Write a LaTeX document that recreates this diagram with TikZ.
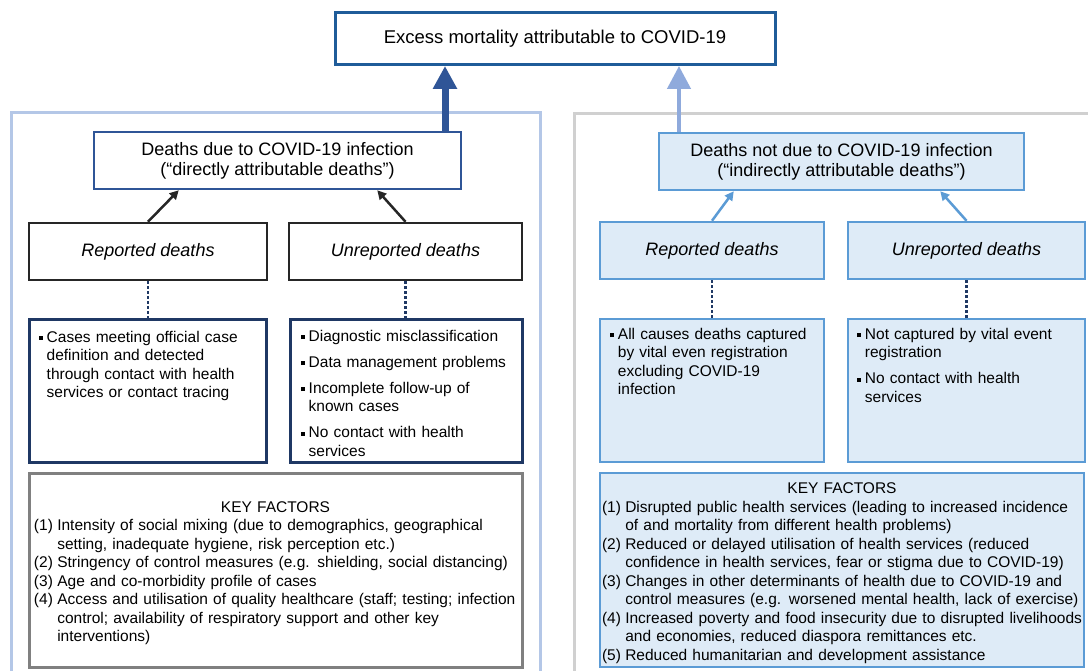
\documentclass[tikz,border=0pt]{standalone}
\usepackage{fontspec}
\setmainfont{Liberation Sans}
\usetikzlibrary{arrows.meta,calc}
\definecolor{topblue}{HTML}{1F5C99}
\definecolor{darkarrow}{HTML}{2F5597}
\definecolor{lightarrow}{HTML}{8FAADC}
\definecolor{lpanelc}{HTML}{B4C7E7}
\definecolor{rpanelc}{HTML}{D0D0D0}
\definecolor{navy}{HTML}{1F3864}
\definecolor{lfill}{HTML}{DEEBF7}
\definecolor{midblue}{HTML}{5B9BD5}
\definecolor{keygray}{HTML}{808080}
\definecolor{boxblack}{HTML}{262626}
\newcommand{\hdfont}{\fontsize{18}{20}\selectfont}
\newcommand{\bdfont}{\fontsize{15.5}{18.5}\selectfont}
\newcommand{\bul}[1]{\par\noindent\hangindent=8pt\hangafter=1\makebox[8pt][l]{\rule[2.2pt]{3.8pt}{3.8pt}}#1\par}
\newcommand{\kit}[2]{\par\noindent\hangindent=23.3pt\hangafter=1\makebox[23.3pt][l]{(#1)}#2\par}
\tikzset{
  base/.style={rectangle, inner sep=0pt, align=center},
  topbox/.style={base, draw=topblue, line width=3pt, fill=white, font=\fontsize{18.5}{20}\selectfont},
  dirbox/.style={base, draw=darkarrow, line width=2.5pt, fill=white, font=\hdfont},
  indbox/.style={base, draw=midblue, line width=2.5pt, fill=lfill, font=\hdfont},
  blkbox/.style={base, draw=boxblack, line width=2.5pt, fill=white, font=\hdfont\itshape},
  navybox/.style={base, draw=navy, line width=3pt, fill=white},
  graybox/.style={base, draw=keygray, line width=3pt, fill=white, font=\bdfont, align=left},
  keyblue/.style={base, draw=midblue, line width=2.5pt, fill=lfill, font=\bdfont, align=left},
  btext/.style={anchor=north west, inner sep=0pt, font=\bdfont, align=left, text width=225pt},
  bigdark/.style={draw=darkarrow, line width=7pt, -{Triangle[length=23pt,width=23pt]}},
  biglight/.style={draw=lightarrow, line width=4.5pt, -{Triangle[length=23pt,width=23pt]}},
  blkarrow/.style={draw=boxblack, line width=2.5pt, -{Triangle[length=9pt,width=9pt]}},
  bluearrow/.style={draw=midblue, line width=2.5pt, -{Triangle[length=9pt,width=9pt]}},
  dotline/.style={draw=navy, line width=2.5pt, dash pattern=on 2.5pt off 2.5pt},
}
\begin{document}
\begin{tikzpicture}[x=1pt,y=-1pt]
\useasboundingbox (0,0) rectangle (1088,671);
\clip (0,0) rectangle (1088,671);
\fill[white] (0,0) rectangle (1088,671);
% panels
\draw[draw=lpanelc, line width=3pt] (11,113) rectangle (540,700);
\draw[draw=rpanelc, line width=3pt] (574,114) rectangle (1110,700);
% top box
\node[topbox, minimum width=440pt, minimum height=52pt] (top) at (555,38.5) {Excess mortality attributable to COVID-19};
% level 2 (positions)
\coordinate (ddc) at (277.5,160.5);
\coordinate (ndc) at (841.5,161.5);
% big arrows
\coordinate (ax1) at (445,0);
\coordinate (ax2) at (679,0);
\draw[bigdark] (ax1 |- ddc) -- (ax1 |- top.south);
\draw[biglight] (ax2 |- ndc) -- (ax2 |- top.south);
\node[dirbox, minimum width=367pt, minimum height=57pt] (dd) at (ddc) {Deaths due to COVID-19 infection\\(“directly attributable deaths”)};
\node[indbox, minimum width=365pt, minimum height=57pt] (nd) at (ndc) {Deaths not due to COVID-19 infection\\(“indirectly attributable deaths”)};
% level 3
\node[blkbox, minimum width=238pt, minimum height=57pt] (lrep) at (148,251.5) {Reported deaths};
\node[blkbox, minimum width=233pt, minimum height=57pt] (lunr) at (405.5,251.5) {Unreported deaths};
\node[indbox, font=\hdfont\itshape, minimum width=224pt, minimum height=57pt] (rrep) at (712,250.5) {Reported deaths};
\node[indbox, font=\hdfont\itshape, minimum width=237pt, minimum height=57pt] (runr) at (966.5,250.5) {Unreported deaths};
% small arrows
\draw[blkarrow] (lrep.north) -- ($(dd.south west)+(86,0)$);
\draw[blkarrow] (lunr.north) -- ($(dd.south east)+(-85,0)$);
\draw[bluearrow] (rrep.north) -- ($(nd.south west)+(76,0)$);
\draw[bluearrow] (runr.north) -- ($(nd.south east)+(-85,0)$);
% content boxes
\node[navybox, minimum width=237pt, minimum height=142pt] (lrc) at (147.5,391) {};
\node[navybox, minimum width=232pt, minimum height=142pt] (luc) at (406,391) {};
\node[indbox, minimum width=224pt, minimum height=143pt] (rrc) at (712,390.5) {};
\node[indbox, minimum width=237pt, minimum height=143pt] (ruc) at (966.5,390.5) {};
% dotted links
\draw[dotline] (lrep.south) -- (lrep.south |- lrc.north);
\draw[dotline] (lunr.south) -- (lunr.south |- luc.north);
\draw[dotline] (rrep.south) -- (rrep.south |- rrc.north);
\draw[dotline] (runr.south) -- (runr.south |- ruc.north);
% content texts
\node[btext] (lrct) at ($(lrc.north west)+(11,5)$) {\bul{Cases meeting official case\newline definition and detected\newline through contact with health\newline services or contact tracing}};
\node[btext] (luct) at ($(luc.north west)+(12,4)$) {\bul{Diagnostic misclassification}\vspace{7.5pt}\bul{Data management problems}\vspace{7.5pt}\bul{Incomplete follow-up of\newline known cases}\vspace{7.5pt}\bul{No contact with health\newline services}};
\node[btext] (rrct) at ($(rrc.north west)+(11,3)$) {\bul{All causes deaths captured\newline by vital even registration\newline excluding COVID-19\newline infection}};
\node[btext] (ruct) at ($(ruc.north west)+(10,3)$) {\bul{Not captured by vital event\newline registration}\vspace{7.5pt}\bul{No contact with health\newline services}};
% key factors
\node[graybox, minimum width=493pt, minimum height=194pt, text width=483pt] (lkey) at (275.5,570) {\centerline{\rule{0pt}{17pt}KEY FACTORS}\kit{1}{Intensity of social mixing (due to demographics, geographical\newline setting, inadequate hygiene, risk perception etc.)}\kit{2}{Stringency of control measures (e.g. shielding, social distancing)}\kit{3}{Age and co-morbidity profile of cases}\kit{4}{Access and utilisation of quality healthcare (staff; testing; infection\newline control; availability of respiratory support and other key\newline interventions)}};
\node[keyblue, minimum width=484pt, minimum height=194pt, text width=480pt] (rkey) at (842,570) {\centerline{\rule{0pt}{17pt}KEY FACTORS}\kit{1}{Disrupted public health services (leading to increased incidence\newline of and mortality from different health problems)}\kit{2}{Reduced or delayed utilisation of health services (reduced\newline confidence in health services, fear or stigma due to COVID-19)}\kit{3}{Changes in other determinants of health due to COVID-19 and\newline control measures (e.g. worsened mental health, lack of exercise)}\kit{4}{Increased poverty and food insecurity due to disrupted livelihoods\newline and economies, reduced diaspora remittances etc.}\kit{5}{Reduced humanitarian and development assistance}};
\end{tikzpicture}
\end{document}
